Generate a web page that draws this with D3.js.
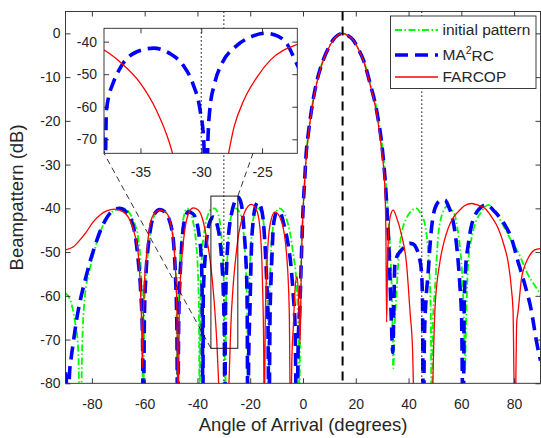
<!DOCTYPE html>
<html>
<head>
<meta charset="utf-8">
<script src="https://cdn.jsdelivr.net/npm/d3@7"></script>
<style>
  body { margin: 0; background: #fff; }
  svg { display: block; }
  text { font-family: "Liberation Sans", Arial, Helvetica, sans-serif; fill: #262626; }
</style>
</head>
<body>
<svg id="chart" width="541" height="438"></svg>
<script>
// tick values
const xTicks = [-80, -60, -40, -20, 0, 20, 40, 60, 80];
const yTicks = [-80, -70, -60, -50, -40, -30, -20, -10, 0];
const insetXTicks = [-35, -30, -25];
const insetYTicks = [-70, -60, -50, -40];

// reference angles: look direction and the two null directions
const lookAngle = 15;
const nullAngles = [-30, 45];

// zoomed region drawn as a box on the main axes
const zoomBoxAngles = [-34.9, -24.7];
const zoomBoxDb = [-72, -37.2];

const legendNames = ['initial pattern', 'MA2RC', 'FARCOP'];

// [angle (deg), beampattern (dB)]
const initialPattern = [
  [-90, -59.4], [-88.3, -60.8], [-86.4, -65.9], [-85.2, -72], [-84.4, -92], [-83.6, -70], [-82.6, -59.8],
  [-81, -54.5], [-79.5, -50.7], [-77.5, -46.5], [-75.7, -43.8], [-73.8, -41.8], [-71.9, -40.6], [-68.1, -40],
  [-65.5, -41.3], [-63.8, -43.5], [-62.4, -46.9], [-61.5, -53], [-61, -62], [-60.6, -92], [-60.1, -62],
  [-59.3, -54], [-58.3, -47.5], [-57.2, -43.5], [-55.8, -41], [-54.2, -40.2], [-52.5, -40.6], [-51, -41.8],
  [-49.7, -44.5], [-48.7, -49.5], [-48, -58], [-47.6, -92], [-47.2, -62], [-46.6, -52], [-45.8, -44.5],
  [-44.9, -41.2], [-44, -40], [-42.7, -40.8], [-41.5, -43.5], [-40.5, -48], [-39.8, -55], [-39.4, -65],
  [-39.2, -92], [-38.9, -62], [-38.3, -51], [-37.3, -45], [-36, -41.5], [-34.8, -40.2], [-33.6, -40],
  [-32.3, -41], [-31.3, -44], [-30.6, -49], [-30, -57], [-29.7, -68], [-29.5, -92], [-29.2, -64],
  [-28.7, -52], [-27.9, -44.5], [-26.9, -41.2], [-25.5, -40], [-24.1, -40.8], [-23, -43.5], [-22.1, -48.5],
  [-21.5, -56], [-21.1, -66], [-20.9, -92], [-20.6, -64], [-20.1, -53], [-19.4, -45.5], [-18.4, -41.3],
  [-17.1, -40], [-15.8, -40.9], [-14.8, -44], [-14.1, -49.5], [-13.6, -57], [-13.3, -67], [-13.1, -92],
  [-12.8, -63], [-12.3, -52], [-11.5, -45], [-10.4, -41.3], [-9, -40], [-7.5, -40.6], [-6.2, -42.5],
  [-5, -45.3], [-3.7, -50.5], [-2.6, -56], [-2, -63], [-1.6, -72], [-1.4, -88], [-1.1, -68], [-0.6, -50],
  [0, -41], [0.6, -34.5], [1.3, -27.5], [2.1, -22.5], [3.1, -18], [5, -11.8], [7.6, -6.2], [9.5, -3.5],
  [11.4, -1.5], [13.2, -0.4], [15, 0], [16.8, -0.4], [19, -1.5], [21, -3.6], [22.9, -6.1], [25.5, -11.4],
  [28.2, -18.3], [30.2, -26.7], [31.5, -35], [32.5, -44], [33.3, -53], [33.8, -62], [34.2, -76.6],
  [34.8, -66], [35.4, -59.8], [36, -53.5], [36.7, -48.4], [37.8, -44.5], [39.2, -42.3], [41, -40.6],
  [43, -40], [44.8, -41.5], [46.2, -43.6], [47.3, -49], [48, -56], [48.4, -64], [48.8, -92], [49.2, -66],
  [50, -58.5], [50.6, -52], [51.2, -46.5], [52.2, -42.5], [53.1, -40.8], [54.4, -39.6], [56, -40.2],
  [57.5, -41.5], [58.5, -44.5], [59.4, -48.4], [60.2, -54], [60.7, -60], [61.1, -68], [61.4, -77],
  [61.8, -66], [62.6, -52.5], [63.8, -47], [65.1, -43.8], [67.6, -40.8], [70.2, -39.2], [73, -41],
  [76.5, -44.6], [79, -47.5], [81.5, -50], [85.3, -55.2], [88, -57.8], [90, -59.6]
];

const ma2rc = [
  [-90, -77.5], [-89.6, -80.5], [-89.1, -92], [-88.5, -78], [-87.8, -74], [-87, -70.5], [-85.8, -65.5],
  [-84.5, -61.3], [-82.6, -56.5], [-80.7, -52.2], [-78.8, -48.5], [-76.9, -45.3], [-75, -42.8],
  [-73.1, -41.1], [-71.2, -40.2], [-69.4, -40], [-67.3, -40.6], [-64.9, -43], [-63.5, -46.5],
  [-62.4, -52.2], [-61.5, -59], [-60.8, -70], [-60.5, -92], [-60.1, -65], [-59.5, -55], [-58.6, -48.4],
  [-57.6, -44], [-56.5, -41.5], [-54.2, -40.3], [-51.9, -41.1], [-50.6, -42.8], [-49.8, -44.6],
  [-48.9, -49], [-48.3, -56], [-47.8, -67], [-47.5, -92], [-47.1, -66], [-46.6, -56], [-46, -49],
  [-45.4, -44.6], [-44.5, -42], [-43.5, -40.8], [-41.8, -41.2], [-40.3, -43], [-39.3, -46.5],
  [-38.6, -51], [-38.3, -56], [-38.1, -70], [-37.95, -92], [-37.8, -61], [-37.2, -52.2], [-36.8, -49],
  [-36.4, -46.5], [-35.3, -43.1], [-33.9, -42], [-32.6, -43.6], [-31.5, -47.2], [-30.7, -52.8],
  [-30.1, -61], [-29.8, -70], [-29.6, -95], [-29.45, -70], [-29.3, -61], [-28.9, -52.8], [-28.3, -46.7],
  [-27.2, -41.6], [-25.9, -38.5], [-24.7, -37.4], [-23.7, -38.3], [-22.9, -41], [-22.3, -45.6],
  [-21.7, -51], [-21.2, -60], [-20.9, -92], [-20.6, -75], [-20.1, -63], [-19.5, -48.4], [-18.9, -43],
  [-18.2, -40], [-17.1, -38.6], [-15.9, -39.8], [-15.1, -42.5], [-14.4, -48.4], [-13.8, -56],
  [-13.3, -65], [-12.9, -92], [-12.5, -65], [-12.2, -58], [-11.7, -50], [-11.3, -44.6], [-10.6, -41.8],
  [-9.8, -40.7], [-8.6, -41], [-7.3, -43.5], [-5.6, -48.4], [-4.5, -53.5], [-3.7, -59.8], [-3, -67],
  [-2.4, -92], [-1.8, -70], [-1.2, -63], [-0.6, -51], [0, -40.5], [0.6, -34], [1.2, -27.5], [2.1, -22.5],
  [3.1, -18], [5, -11.6], [7.6, -6.2], [9.5, -3.5], [11.4, -1.5], [13.2, -0.4], [15, 0], [16.8, -0.4],
  [19, -1.5], [21, -3.6], [22.9, -6.1], [25.4, -11.4], [28.1, -18.3], [30.1, -26.7], [31.3, -35],
  [31.9, -41], [32.5, -48], [32.9, -55], [33.5, -66], [34, -73], [34.4, -63], [34.8, -53], [35.6, -51],
  [36.7, -50], [38.5, -48.8], [40.5, -48], [41.8, -48.2], [43, -49.2], [44, -51], [44.9, -54.5],
  [45.3, -62], [45.6, -92], [46, -70], [46.6, -61], [47.4, -55], [48, -49.5], [48.7, -44.6], [50, -40],
  [51.9, -38.3], [53.8, -38.1], [55.1, -39.5], [56.3, -41.5], [57.6, -45.5], [58.8, -52.2], [59.6, -59],
  [60.1, -65], [60.7, -92], [61.1, -62], [61.6, -54], [62.6, -48.4], [63.9, -43.8], [65, -41.8],
  [66.4, -40.4], [69.5, -39.2], [72.7, -40.8], [76.5, -43.8], [79, -46.9], [81.5, -52.2], [84.1, -57.5],
  [86.6, -63.6], [88.5, -70.5], [90, -74.8]
];

const farcop = [
  [-90, -49.5], [-87, -48.8], [-84.5, -47.2], [-82, -45.3], [-79.5, -43.1], [-76.9, -41.5], [-74.4, -40.6],
  [-71.3, -40.2], [-68.1, -40.8], [-65.6, -42.7], [-63.7, -46.1], [-62.4, -50.7], [-61.5, -59.8],
  [-61.1, -68], [-60.85, -76.5], [-60.55, -66], [-60.3, -60], [-59.5, -52.2], [-58.2, -44.6],
  [-56.7, -41.5], [-54.2, -40.4], [-51.7, -41.1], [-49.8, -44.6], [-48.5, -52.2], [-47.8, -62],
  [-47.3, -92], [-46.9, -63.6], [-46, -52.2], [-44.7, -44.6], [-43.1, -40.8], [-41.6, -39.9],
  [-39.7, -40.4], [-38, -42.6], [-36.7, -46.2], [-35, -52.8], [-33.7, -61], [-32.6, -71.3], [-32.1, -78],
  [-31.5, -88], [-30, -100], [-28.5, -88], [-27.9, -77], [-27.3, -66.2], [-26.5, -58], [-25.4, -50.8],
  [-24.3, -45.6], [-22.2, -41], [-19.6, -39.1], [-17.6, -40.4], [-16.3, -44.6], [-15.4, -56],
  [-14.9, -72], [-14.7, -92], [-14.3, -66], [-13.6, -52.2], [-12.5, -43.8], [-10.6, -40.8], [-8.1, -43.1],
  [-6.2, -50.7], [-5.2, -63.6], [-4.7, -92], [-4.2, -74], [-3.7, -67.4], [-2.8, -57], [-2.2, -55.6],
  [-1.6, -62], [-1.1, -71], [-0.6, -52], [0.1, -39.6], [0.7, -33], [1.4, -27], [2.3, -22], [3.3, -17.5],
  [5.2, -11.4], [7.7, -6.1], [9.6, -3.5], [11.5, -1.5], [13.2, -0.4], [15, 0], [16.8, -0.4], [19, -1.5],
  [21, -3.6], [22.8, -6.1], [25.3, -11.4], [27.9, -18.3], [29.8, -26.7], [31, -35], [31.4, -45],
  [31.7, -66], [31.95, -56], [32.4, -46.1], [33.2, -41.5], [34.2, -40.4], [35.4, -42], [37.3, -46],
  [39.2, -52.5], [40.6, -64], [41.5, -72], [42.2, -88], [45.5, -100], [48.8, -88], [49.6, -70],
  [50, -63], [51.9, -52.2], [53.5, -47.5], [55, -44.6], [56.8, -42.2], [58.8, -40.8], [61.2, -39.4],
  [63.9, -38.9], [66.5, -39.3], [68.9, -40], [71.5, -42], [74, -44.6], [76.2, -48.5], [77.7, -52.2],
  [79, -58.5], [79.6, -63.6], [80.3, -92], [81, -66], [81.5, -63.6], [82.8, -56], [84, -53.2],
  [85.3, -51.4], [87.8, -49.5], [90, -49.2]
];

const series = [
  { name: legendNames[0], data: initialPattern, color: '#00ff00', width: 1.8, dash: '7,2.5,1.5,2.5' },
  { name: legendNames[1], data: ma2rc, color: '#0000ff', width: 3.6, dash: '13,7' },
  { name: legendNames[2], data: farcop, color: '#ff0000', width: 1.3, dash: null },
];

const svg = d3.select('#chart');
const axisColor = '#262626';

const plot = { left: 65.5, right: 540.5, top: 11.5, bottom: 383.3 };
const inset = { left: 104, right: 297.3, top: 28.3, bottom: 153.3 };

const xScale = d3.scaleLinear().domain([-90, 90]).range([plot.left, plot.right]);
const yScale = d3.scaleLinear().domain([-80, 5]).range([plot.bottom, plot.top]);
const xInset = d3.scaleLinear().domain([-38, -22.1]).range([inset.left, inset.right]);
const yInset = d3.scaleLinear().domain([-74.3, -35.9]).range([inset.bottom, inset.top]);

const defs = svg.append('defs');
defs.append('clipPath').attr('id', 'clip-main').append('rect')
  .attr('x', plot.left).attr('y', plot.top)
  .attr('width', plot.right - plot.left).attr('height', plot.bottom - plot.top);
defs.append('clipPath').attr('id', 'clip-inset').append('rect')
  .attr('x', inset.left).attr('y', inset.top)
  .attr('width', inset.right - inset.left).attr('height', inset.bottom - inset.top);

function drawCurves(g, xs, ys, list) {
  const line = d3.line()
    .x((d) => xs(d[0]))
    .y((d) => ys(d[1]))
    .curve(d3.curveMonotoneX);
  g.selectAll('path.curve')
    .data(list)
    .join('path')
    .attr('class', 'curve')
    .attr('d', (s) => line(s.data))
    .attr('fill', 'none')
    .attr('stroke', (s) => s.color)
    .attr('stroke-width', (s) => s.width)
    .attr('stroke-dasharray', (s) => s.dash)
    .attr('stroke-linejoin', 'round');
}

// plain hyphen for negative numbers, like the original figure
const fmt = (d) => String(d);

function drawAxes(g, xs, ys, box, xt, yt, xPad, yPad) {
  const tick = 5;
  g.append('g').attr('transform', `translate(0,${box.bottom})`)
    .call(d3.axisBottom(xs).tickValues(xt).tickFormat(fmt).tickSizeInner(-tick).tickSizeOuter(0).tickPadding(xPad));
  g.append('g').attr('transform', `translate(0,${box.top})`)
    .call(d3.axisTop(xs).tickValues(xt).tickSizeInner(-tick).tickSizeOuter(0).tickFormat(''));
  g.append('g').attr('transform', `translate(${box.left},0)`)
    .call(d3.axisLeft(ys).tickValues(yt).tickFormat(fmt).tickSizeInner(-tick).tickSizeOuter(0).tickPadding(yPad));
  g.append('g').attr('transform', `translate(${box.right},0)`)
    .call(d3.axisRight(ys).tickValues(yt).tickSizeInner(-tick).tickSizeOuter(0).tickFormat(''));
  g.selectAll('.domain').remove();
  g.selectAll('.tick line').attr('stroke', axisColor).attr('stroke-width', 0.9);
  g.selectAll('.tick text').attr('font-size', 14).attr('fill', axisColor)
    .attr('font-family', '"Liberation Sans", Arial, sans-serif');
  g.append('rect')
    .attr('x', box.left).attr('y', box.top)
    .attr('width', box.right - box.left).attr('height', box.bottom - box.top)
    .attr('fill', 'none').attr('stroke', axisColor).attr('stroke-width', 0.9);
}

// main curves
const main = svg.append('g');
drawCurves(main.append('g').attr('clip-path', 'url(#clip-main)'), xScale, yScale, series);

// reference lines
main.append('line')
  .attr('x1', xScale(lookAngle)).attr('x2', xScale(lookAngle))
  .attr('y1', plot.top).attr('y2', plot.bottom)
  .attr('stroke', '#000').attr('stroke-width', 2).attr('stroke-dasharray', '9,6');
main.selectAll('line.null')
  .data(nullAngles)
  .join('line')
  .attr('class', 'null')
  .attr('x1', (d) => xScale(d)).attr('x2', (d) => xScale(d))
  .attr('y1', plot.top).attr('y2', plot.bottom)
  .attr('stroke', '#000').attr('stroke-width', 1.2).attr('stroke-dasharray', '1.3,2.7');

// zoom box and connector lines
const bx0 = xScale(zoomBoxAngles[0]);
const bx1 = xScale(zoomBoxAngles[1]);
const by0 = yScale(zoomBoxDb[1]);
const by1 = yScale(zoomBoxDb[0]);
main.append('rect')
  .attr('x', bx0).attr('y', by0).attr('width', bx1 - bx0).attr('height', by1 - by0)
  .attr('fill', 'none').attr('stroke', '#1a1a1a').attr('stroke-width', 1);
main.append('line')
  .attr('x1', bx0).attr('y1', by1).attr('x2', inset.left).attr('y2', inset.bottom)
  .attr('stroke', '#000').attr('stroke-width', 0.8).attr('stroke-dasharray', '6,4');
main.append('line')
  .attr('x1', bx1).attr('y1', by0).attr('x2', inset.right).attr('y2', inset.top)
  .attr('stroke', '#000').attr('stroke-width', 0.8).attr('stroke-dasharray', '6,4');

drawAxes(main.append('g'), xScale, yScale, plot, xTicks, yTicks, 16, 5);

// inset
const ins = svg.append('g');
ins.append('rect')
  .attr('x', inset.left).attr('y', inset.top)
  .attr('width', inset.right - inset.left).attr('height', inset.bottom - inset.top)
  .attr('fill', '#fff');
const insCurves = ins.append('g').attr('clip-path', 'url(#clip-inset)');
drawCurves(insCurves, xInset, yInset, series.slice(1));
insCurves.append('line')
  .attr('x1', xInset(nullAngles[0])).attr('x2', xInset(nullAngles[0]))
  .attr('y1', inset.top).attr('y2', inset.bottom)
  .attr('stroke', '#000').attr('stroke-width', 1.2).attr('stroke-dasharray', '1.3,2.7');
drawAxes(ins.append('g'), xInset, yInset, inset, insetXTicks, insetYTicks, 14, 7);

// axis labels
svg.append('text')
  .attr('x', (plot.left + plot.right) / 2).attr('y', 431)
  .attr('text-anchor', 'middle').attr('font-size', 18.5)
  .text('Angle of Arrival (degrees)');
svg.append('text')
  .attr('transform', `translate(23,${(plot.top + plot.bottom) / 2}) rotate(-90)`)
  .attr('text-anchor', 'middle').attr('font-size', 18.5)
  .text('Beampattern (dB)');

// legend
const legend = svg.append('g');
legend.append('rect')
  .attr('x', 390.5).attr('y', 16).attr('width', 145.5).attr('height', 72.5)
  .attr('fill', '#fff').attr('stroke', axisColor).attr('stroke-width', 0.9);
const rows = legend.selectAll('g.row')
  .data(series)
  .join('g')
  .attr('class', 'row')
  .attr('transform', (d, i) => `translate(0,${[30, 55, 77][i]})`);
rows.append('line')
  .attr('x1', 395).attr('x2', 438).attr('y1', 0).attr('y2', 0)
  .attr('stroke', (s) => s.color)
  .attr('stroke-width', (s) => s.width)
  .attr('stroke-dasharray', (s) => s.dash);
rows.append('text')
  .attr('x', 442.5).attr('y', 0).attr('dy', '0.35em').attr('font-size', 15.5)
  .each(function (s) {
    const t = d3.select(this);
    if (s.name === 'MA2RC') {
      t.append('tspan').text('MA');
      t.append('tspan').attr('font-size', 10.5).attr('dy', '-0.6em').text('2');
      t.append('tspan').attr('dy', '0.42em').text('RC');
    } else {
      t.text(s.name);
    }
  });
</script>
</body>
</html>
